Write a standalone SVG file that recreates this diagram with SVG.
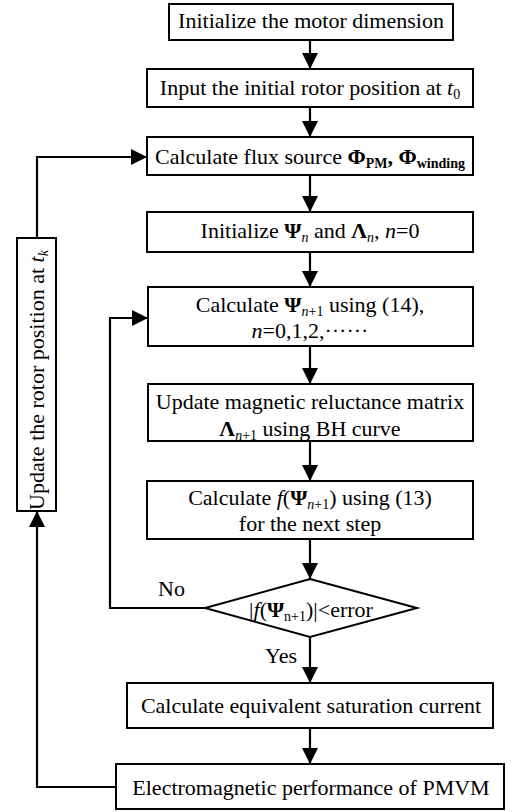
<svg xmlns="http://www.w3.org/2000/svg" width="513" height="812" viewBox="0 0 513 812">
<defs>
<marker id="ah" markerUnits="userSpaceOnUse" markerWidth="16" markerHeight="16" refX="16" refY="8" orient="auto">
<path d="M0,0 L16,8 L0,16 z" fill="#000"/>
</marker>
<style>
.b{fill:#fff;stroke:#000;stroke-width:2}
.t{font-family:"Liberation Serif","Times New Roman",serif;font-size:22px;fill:#000;text-anchor:middle}
.l{font-family:"Liberation Serif","Times New Roman",serif;font-size:22px;fill:#000}
.c{fill:none;stroke:#000;stroke-width:2.2}
.s{font-size:14px}
.bd{font-weight:bold}
.i{font-style:italic}
</style>
</defs>
<rect width="513" height="812" fill="#fff"/>
<g id="connectors">
<line class="c" x1="310" y1="40" x2="310" y2="69" marker-end="url(#ah)"/>
<line class="c" x1="310" y1="107" x2="310" y2="137" marker-end="url(#ah)"/>
<line class="c" x1="310" y1="175" x2="310" y2="212" marker-end="url(#ah)"/>
<line class="c" x1="310" y1="252" x2="310" y2="287" marker-end="url(#ah)"/>
<line class="c" x1="310" y1="346" x2="310" y2="384" marker-end="url(#ah)"/>
<line class="c" x1="310" y1="441" x2="310" y2="481" marker-end="url(#ah)"/>
<line class="c" x1="310" y1="539" x2="310" y2="579" marker-end="url(#ah)"/>
<line class="c" x1="310" y1="637" x2="310" y2="683" marker-end="url(#ah)"/>
<line class="c" x1="310" y1="728" x2="310" y2="764" marker-end="url(#ah)"/>
<polyline class="c" points="205,608 110,608 110,318 148,318" marker-end="url(#ah)"/>
<polyline class="c" points="116,787 37,787 37,511" marker-end="url(#ah)"/>
<polyline class="c" points="37,238 37,157 147,157" marker-end="url(#ah)"/>
<text class="l" x="158" y="596">No</text>
<text class="l" x="265" y="663">Yes</text>
</g>
<g id="n1">
<rect class="b" x="169" y="4" width="284" height="36"/>
<text class="t" x="311" y="28">Initialize the motor dimension</text>
</g>
<g id="n2">
<rect class="b" x="147" y="69" width="326" height="38"/>
<text class="t" x="310" y="95">Input the initial rotor position at <tspan class="i">t</tspan><tspan class="s" dy="4">0</tspan></text>
</g>
<g id="n3">
<rect class="b" x="147" y="137" width="326" height="38"/>
<text class="t" x="310" y="164">Calculate flux source <tspan class="bd">Φ</tspan><tspan class="bd s" dy="4">PM</tspan><tspan class="bd" dy="-4">, Φ</tspan><tspan class="bd s" dy="4">winding</tspan></text>
</g>
<g id="n4">
<rect class="b" x="147" y="212" width="326" height="40"/>
<text class="t" x="310" y="238">Initialize <tspan class="bd">Ψ</tspan><tspan class="i s" dy="4">n</tspan><tspan dy="-4"> and </tspan><tspan class="bd">Λ</tspan><tspan class="i s" dy="4">n</tspan><tspan dy="-4">, </tspan><tspan class="i">n</tspan>=0</text>
</g>
<g id="n5">
<rect class="b" x="148" y="287" width="325" height="59"/>
<text class="t" x="310" y="312">Calculate <tspan class="bd">Ψ</tspan><tspan class="s" dy="4"><tspan class="i">n</tspan>+1</tspan><tspan dy="-4"> using (14),</tspan></text>
<text class="t" x="310" y="338"><tspan class="i">n</tspan>=0,1,2,······</text>
</g>
<g id="n6">
<rect class="b" x="148" y="384" width="325" height="57"/>
<text class="t" x="310" y="409">Update magnetic reluctance matrix</text>
<text class="t" x="310" y="436"><tspan class="bd">Λ</tspan><tspan class="s" dy="4"><tspan class="i">n</tspan>+1</tspan><tspan dy="-4"> using BH curve</tspan></text>
</g>
<g id="n7">
<rect class="b" x="147" y="481" width="326" height="58"/>
<text class="t" x="310" y="505">Calculate <tspan class="i">f</tspan>(<tspan class="bd">Ψ</tspan><tspan class="s" dy="4"><tspan class="i">n</tspan>+1</tspan><tspan dy="-4">) using (13)</tspan></text>
<text class="t" x="310" y="531">for the next step</text>
</g>
<g id="n8">
<polygon class="b" points="310,579 417,608 310,637 205,608"/>
<text class="t" x="311" y="617">|<tspan class="i">f</tspan>(<tspan class="bd">Ψ</tspan><tspan class="s" dy="4">n+1</tspan><tspan dy="-4">)|&lt;error</tspan></text>
</g>
<g id="n9">
<rect class="b" x="127" y="683" width="366" height="45"/>
<text class="t" x="311" y="713">Calculate equivalent saturation current</text>
</g>
<g id="n10">
<rect class="b" x="116" y="764" width="388" height="45"/>
<text class="t" x="311" y="795">Electromagnetic performance of PMVM</text>
</g>
<g id="n11">
<rect class="b" x="17" y="238" width="39" height="273"/>
<text class="t" x="44" y="380" transform="rotate(-90 44 380)">Update the rotor position at <tspan class="i">t</tspan><tspan class="i s" dy="4">k</tspan></text>
</g>
</svg>
